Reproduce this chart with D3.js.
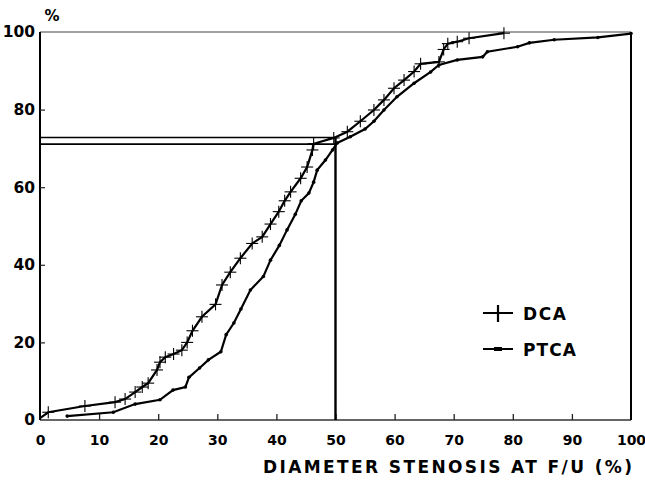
<!DOCTYPE html>
<html><head><meta charset="utf-8">
<script src="https://cdn.jsdelivr.net/npm/d3@7"></script>
<style>body{margin:0;background:#fff}svg{display:block}</style>
</head><body>
<script>
// Cumulative distribution of diameter stenosis at follow-up
const dcaX = [0, 1.4, 7.6, 12.7, 14.4, 16.1, 17.3, 18.3, 19.8, 20.3, 21.2, 22.6, 24.0, 24.9, 25.8, 27.4, 29.7, 30.8, 32.2, 33.9, 35.9, 37.6, 39.0, 40.4, 41.4, 42.4, 44.1, 45.2, 46.1, 46.3, 49.7, 52.0, 54.2, 56.5, 58.2, 59.9, 61.6, 63.3, 64.4, 67.5, 68.3, 69.0, 70.6, 72.6, 78.5];
const dcaY = [0.5, 2.0, 3.6, 4.6, 5.4, 7.2, 8.5, 9.5, 12.9, 14.9, 16.2, 17.0, 18.0, 20.0, 23.0, 26.6, 29.8, 34.8, 38.1, 41.7, 45.5, 47.2, 50.5, 53.7, 56.5, 58.8, 62.3, 65.2, 69.6, 71.2, 72.7, 74.3, 77.0, 79.9, 82.5, 85.5, 87.6, 89.8, 91.8, 92.3, 95.5, 97.0, 97.5, 98.4, 99.7];
const ptcaX = [4.6, 12.4, 16.1, 20.3, 22.5, 24.6, 25.2, 27.0, 28.5, 30.6, 31.5, 32.8, 34.0, 35.6, 37.8, 39.0, 40.5, 41.8, 43.2, 44.2, 45.5, 46.3, 46.9, 48.3, 49.5, 50.3, 52.5, 55.0, 56.5, 58.2, 60.4, 63.3, 66.1, 67.5, 70.6, 74.9, 75.7, 80.8, 82.8, 87.0, 94.4, 100];
const ptcaY = [1.0, 2.0, 4.1, 5.2, 7.7, 8.5, 11.0, 13.4, 15.5, 17.6, 22.0, 25.0, 28.6, 33.5, 37.0, 41.2, 45.0, 49.0, 53.0, 56.5, 58.5, 61.3, 64.4, 67.0, 69.6, 71.4, 73.0, 75.0, 77.0, 79.9, 83.3, 86.8, 89.7, 91.5, 92.8, 93.6, 94.9, 96.2, 97.2, 98.0, 98.6, 99.6];
const xTicks = [0, 10, 20, 30, 40, 50, 60, 70, 80, 90, 100];
const yTicks = [0, 20, 40, 60, 80, 100];
const refX = 50;
const refYDca = 72.8;
const refYPtca = 71.1;
const seriesNames = ["DCA", "PTCA"];
const xTitle = "DIAMETER STENOSIS AT F/U (%)";
const yTitle = "%";

const W = 645, H = 483;
const svg = d3.select("body").append("svg").attr("width", W).attr("height", H);
const x = d3.scaleLinear().domain([0, 100]).range([40, 631]);
const y = d3.scaleLinear().domain([0, 100]).range([420, 32]);

// frame
svg.append("line").attr("x1", x(0)).attr("x2", x(100)).attr("y1", y(100)).attr("y2", y(100))
  .attr("stroke", "#808080").attr("stroke-width", 1.6);
svg.append("line").attr("x1", x(0)).attr("x2", x(100)).attr("y1", y(0)).attr("y2", y(0))
  .attr("stroke", "#666").attr("stroke-width", 1.8);
svg.append("line").attr("x1", x(0)).attr("x2", x(0)).attr("y1", y(0)).attr("y2", y(100))
  .attr("stroke", "#000").attr("stroke-width", 2);
svg.append("line").attr("x1", x(100)).attr("x2", x(100)).attr("y1", y(0)).attr("y2", y(100))
  .attr("stroke", "#000").attr("stroke-width", 2);

// axes
const gx = svg.append("g").attr("transform", `translate(0,${y(0)})`)
  .call(d3.axisBottom(x).tickValues(xTicks).tickSizeInner(-6).tickSizeOuter(0).tickPadding(15));
gx.select(".domain").remove();
gx.selectAll(".tick line").attr("stroke", "#222").attr("stroke-width", 1.3)
  .filter(d => d === 0 || d === 100).remove();
gx.selectAll(".tick text").attr("font-family", "DejaVu Sans").attr("font-weight", "bold")
  .attr("font-size", 14).attr("fill", "#000");

const gy = svg.append("g").attr("transform", `translate(${x(0)},0)`)
  .call(d3.axisLeft(y).tickValues(yTicks).tickSizeInner(-5).tickSizeOuter(0).tickPadding(5));
gy.select(".domain").remove();
gy.selectAll(".tick line").attr("stroke", "#222").attr("stroke-width", 1.2)
  .filter(d => d === 0 || d === 100).remove();
gy.selectAll(".tick text").attr("font-family", "DejaVu Sans").attr("font-weight", "bold")
  .attr("font-size", 15.5).attr("fill", "#000");

svg.append("text").attr("x", 52).attr("y", 21).attr("text-anchor", "middle")
  .attr("font-family", "DejaVu Sans").attr("font-weight", "bold").attr("font-size", 15).text(yTitle);

svg.append("text").attr("x", 263).attr("y", 473).attr("textLength", 369).attr("lengthAdjust", "spacing")
  .attr("font-family", "DejaVu Sans").attr("font-weight", "bold").attr("font-size", 17).attr("fill", "#000").text(xTitle);

// reference lines
svg.append("line").attr("x1", x(0)).attr("x2", x(refX)).attr("y1", y(refYDca)).attr("y2", y(refYDca))
  .attr("stroke", "#000").attr("stroke-width", 1.6);
svg.append("line").attr("x1", x(0)).attr("x2", x(refX)).attr("y1", y(refYPtca)).attr("y2", y(refYPtca))
  .attr("stroke", "#000").attr("stroke-width", 1.6);
svg.append("line").attr("x1", x(refX)).attr("x2", x(refX)).attr("y1", y(0)).attr("y2", y(refYDca))
  .attr("stroke", "#000").attr("stroke-width", 2.4);

const line = d3.line().x(d => x(d[0])).y(d => y(d[1]));
const dca = dcaX.map((v, i) => [v, dcaY[i]]);
const ptca = ptcaX.map((v, i) => [v, ptcaY[i]]);

svg.append("path").datum(ptca).attr("d", line).attr("fill", "none").attr("stroke", "#000").attr("stroke-width", 2.2);
svg.selectAll(".pdot").data(ptca).join("circle").attr("class", "pdot")
  .attr("cx", d => x(d[0])).attr("cy", d => y(d[1])).attr("r", 1.8).attr("fill", "#000");

svg.append("path").datum(dca).attr("d", line).attr("fill", "none").attr("stroke", "#000").attr("stroke-width", 2.2);
const plus = svg.selectAll(".dplus").data(dca.slice(1)).join("g").attr("class", "dplus")
  .attr("transform", d => `translate(${x(d[0])},${y(d[1])})`);
plus.append("line").attr("x1", -6).attr("x2", 6).attr("stroke", "#000").attr("stroke-width", 1.1);
plus.append("line").attr("y1", -6).attr("y2", 6).attr("stroke", "#000").attr("stroke-width", 1.1);

// legend
const lg = svg.append("g");
lg.append("line").attr("x1", 483).attr("x2", 513).attr("y1", 313).attr("y2", 313).attr("stroke", "#000").attr("stroke-width", 2);
lg.append("line").attr("x1", 498).attr("x2", 498).attr("y1", 305).attr("y2", 322).attr("stroke", "#000").attr("stroke-width", 2.2);
lg.append("line").attr("x1", 483).attr("x2", 513).attr("y1", 349).attr("y2", 349).attr("stroke", "#000").attr("stroke-width", 2);
lg.append("rect").attr("x", 494).attr("y", 347).attr("width", 8).attr("height", 4).attr("fill", "#000");
lg.append("text").attr("x", 523).attr("y", 320).attr("textLength", 43).attr("lengthAdjust", "spacing")
  .attr("font-family", "DejaVu Sans").attr("font-weight", "bold").attr("font-size", 17).text(seriesNames[0]);
lg.append("text").attr("x", 523).attr("y", 356).attr("textLength", 53).attr("lengthAdjust", "spacing")
  .attr("font-family", "DejaVu Sans").attr("font-weight", "bold").attr("font-size", 17).text(seriesNames[1]);
</script>
</body></html>
